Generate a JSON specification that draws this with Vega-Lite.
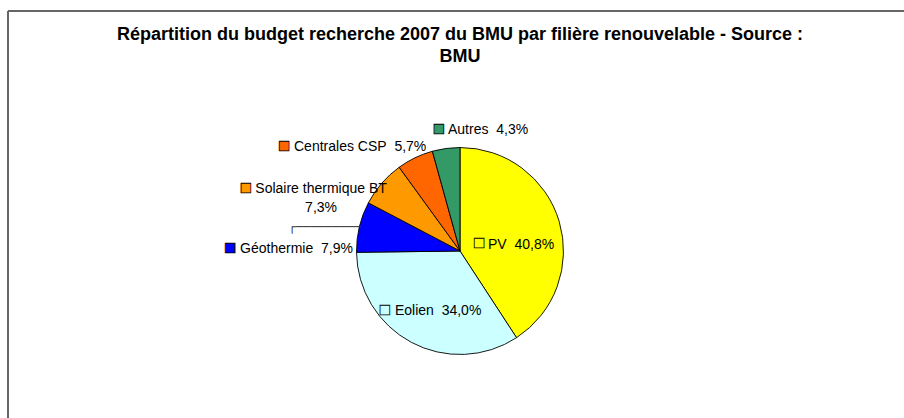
{
  "$schema": "https://vega.github.io/schema/vega-lite/v6.json",
  "autosize": "none",
  "width": 904,
  "height": 480,
  "padding": {"left": 8, "top": 11, "right": -8, "bottom": -73},
  "background": "white",
  "config": {"view": {"stroke": null}},
  "title": {
    "text": ["Répartition du budget recherche 2007 du BMU par filière renouvelable - Source :", "BMU"],
    "orient": "top",
    "anchor": "middle",
    "frame": "group",
    "baseline": "alphabetic",
    "offset": 0,
    "dy": 70,
    "lineHeight": 22,
    "font": "Liberation Sans",
    "fontSize": 18,
    "fontWeight": "bold",
    "color": "#000000"
  },
  "data": {
    "values": [
      {"cat": "PV", "value": 40.8, "idx": 1, "label": "PV\u00a0 40,8%"},
      {"cat": "Eolien", "value": 34.0, "idx": 2, "label": "Eolien\u00a0 34,0%"},
      {"cat": "Géothermie", "value": 7.9, "idx": 3, "label": "Géothermie\u00a0 7,9%"},
      {"cat": "Solaire thermique BT", "value": 7.3, "idx": 4, "label": "Solaire thermique BT\n7,3%"},
      {"cat": "Centrales CSP", "value": 5.7, "idx": 5, "label": "Centrales CSP\u00a0 5,7%"},
      {"cat": "Autres", "value": 4.3, "idx": 6, "label": "Autres\u00a0 4,3%"}
    ]
  },
  "layer": [
    {
      "mark": {"type": "rule", "color": "#666666", "strokeWidth": 2},
      "encoding": {"x": {"value": 0}, "y": {"value": 0}, "y2": {"value": "height"}}
    },
    {
      "mark": {"type": "rule", "color": "#666666", "strokeWidth": 2},
      "encoding": {"x": {"value": 0}, "x2": {"value": "width"}, "y": {"value": 0}}
    },
    {
      "mark": {"type": "arc", "outerRadius": 103.5, "stroke": "#000000", "strokeWidth": 0.9},
      "encoding": {
        "theta": {"field": "value", "type": "quantitative", "stack": true},
        "order": {"field": "idx", "type": "quantitative"},
        "color": {"field": "cat", "type": "nominal", "legend": null,
          "scale": {"domain": ["PV", "Eolien", "Géothermie", "Solaire thermique BT", "Centrales CSP", "Autres"],
                    "range": ["#FFFF00", "#CCFFFF", "#0000FF", "#FF9900", "#FF6600", "#339966"]}}
      }
    },
    {
      "mark": {"type": "text", "radius": 60, "align": "left", "baseline": "alphabetic", "dx": -29.5, "dy": 15, "font": "Liberation Sans", "fontSize": 14, "fill": "#000000"},
      "encoding": {
        "theta": {"field": "value", "type": "quantitative", "stack": true},
        "order": {"field": "idx", "type": "quantitative"},
        "text": {"condition": {"test": "datum.cat === 'PV'", "field": "label"}, "value": ""}}
    },
    {
      "mark": {"type": "text", "radius": 60, "align": "left", "baseline": "alphabetic", "dx": -36.8, "dy": 11, "font": "Liberation Sans", "fontSize": 14, "fill": "#000000"},
      "encoding": {
        "theta": {"field": "value", "type": "quantitative", "stack": true},
        "order": {"field": "idx", "type": "quantitative"},
        "text": {"condition": {"test": "datum.cat === 'Eolien'", "field": "label"}, "value": ""}}
    },
    {
      "mark": {"type": "text", "radius": 125, "align": "left", "baseline": "alphabetic", "dx": -98.4, "dy": 31.2, "font": "Liberation Sans", "fontSize": 14, "fill": "#000000"},
      "encoding": {
        "theta": {"field": "value", "type": "quantitative", "stack": true},
        "order": {"field": "idx", "type": "quantitative"},
        "text": {"condition": {"test": "datum.cat === 'Géothermie'", "field": "label"}, "value": ""}}
    },
    {
      "mark": {"type": "text", "radius": 125, "align": "center", "baseline": "alphabetic", "dx": -44.4, "dy": 23.8, "lineBreak": "\n", "lineHeight": 19, "font": "Liberation Sans", "fontSize": 14, "fill": "#000000"},
      "encoding": {
        "theta": {"field": "value", "type": "quantitative", "stack": true},
        "order": {"field": "idx", "type": "quantitative"},
        "text": {"condition": {"test": "datum.cat === 'Solaire thermique BT'", "field": "label"}, "value": ""}}
    },
    {
      "mark": {"type": "text", "radius": 125, "align": "left", "baseline": "alphabetic", "dx": -111.7, "dy": 12.6, "font": "Liberation Sans", "fontSize": 14, "fill": "#000000"},
      "encoding": {
        "theta": {"field": "value", "type": "quantitative", "stack": true},
        "order": {"field": "idx", "type": "quantitative"},
        "text": {"condition": {"test": "datum.cat === 'Centrales CSP'", "field": "label"}, "value": ""}}
    },
    {
      "mark": {"type": "text", "radius": 125, "align": "left", "baseline": "alphabetic", "dx": 4.8, "dy": 6.9, "font": "Liberation Sans", "fontSize": 14, "fill": "#000000"},
      "encoding": {
        "theta": {"field": "value", "type": "quantitative", "stack": true},
        "order": {"field": "idx", "type": "quantitative"},
        "text": {"condition": {"test": "datum.cat === 'Autres'", "field": "label"}, "value": ""}}
    },
    {
      "mark": {"type": "text", "radius": 125, "align": "left", "baseline": "alphabetic", "dx": -50, "dy": 9.4, "font": "DejaVu Sans Mono", "fontSize": 12, "fill": "#333333"},
      "encoding": {
        "theta": {"field": "value", "type": "quantitative", "stack": true},
        "order": {"field": "idx", "type": "quantitative"},
        "text": {"condition": {"test": "datum.cat === 'Géothermie'", "value": "┌─────────"}, "value": ""}
      }
    },
    {
      "mark": {"type": "text", "radius": 60, "align": "right", "baseline": "alphabetic", "dx": -32.5, "dy": 15.5, "font": "Liberation Sans", "fontSize": 20, "stroke": "#000000", "strokeWidth": 0.8},
      "encoding": {
        "theta": {"field": "value", "type": "quantitative", "stack": true},
        "order": {"field": "idx", "type": "quantitative"},
        "text": {"condition": {"test": "datum.cat === 'PV'", "value": "■"}, "value": ""},
        "color": {"field": "cat", "type": "nominal", "legend": null}
      }
    },
    {
      "mark": {"type": "text", "radius": 60, "align": "right", "baseline": "alphabetic", "dx": -40.8, "dy": 12.5, "font": "Liberation Sans", "fontSize": 20, "stroke": "#000000", "strokeWidth": 0.8},
      "encoding": {
        "theta": {"field": "value", "type": "quantitative", "stack": true},
        "order": {"field": "idx", "type": "quantitative"},
        "text": {"condition": {"test": "datum.cat === 'Eolien'", "value": "■"}, "value": ""},
        "color": {"field": "cat", "type": "nominal", "legend": null}
      }
    },
    {
      "mark": {"type": "text", "radius": 125, "align": "right", "baseline": "alphabetic", "dx": -102.4, "dy": 32.5, "font": "Liberation Sans", "fontSize": 20, "stroke": "#000000", "strokeWidth": 0.8},
      "encoding": {
        "theta": {"field": "value", "type": "quantitative", "stack": true},
        "order": {"field": "idx", "type": "quantitative"},
        "text": {"condition": {"test": "datum.cat === 'Géothermie'", "value": "■"}, "value": ""},
        "color": {"field": "cat", "type": "nominal", "legend": null}
      }
    },
    {
      "mark": {"type": "text", "radius": 125, "align": "right", "baseline": "alphabetic", "dx": -113.7, "dy": 24.3, "font": "Liberation Sans", "fontSize": 20, "stroke": "#000000", "strokeWidth": 0.8},
      "encoding": {
        "theta": {"field": "value", "type": "quantitative", "stack": true},
        "order": {"field": "idx", "type": "quantitative"},
        "text": {"condition": {"test": "datum.cat === 'Solaire thermique BT'", "value": "■"}, "value": ""},
        "color": {"field": "cat", "type": "nominal", "legend": null}
      }
    },
    {
      "mark": {"type": "text", "radius": 125, "align": "right", "baseline": "alphabetic", "dx": -115.7, "dy": 13.5, "font": "Liberation Sans", "fontSize": 20, "stroke": "#000000", "strokeWidth": 0.8},
      "encoding": {
        "theta": {"field": "value", "type": "quantitative", "stack": true},
        "order": {"field": "idx", "type": "quantitative"},
        "text": {"condition": {"test": "datum.cat === 'Centrales CSP'", "value": "■"}, "value": ""},
        "color": {"field": "cat", "type": "nominal", "legend": null}
      }
    },
    {
      "mark": {"type": "text", "radius": 125, "align": "right", "baseline": "alphabetic", "dx": 1.8, "dy": 7.4, "font": "Liberation Sans", "fontSize": 20, "stroke": "#000000", "strokeWidth": 0.8},
      "encoding": {
        "theta": {"field": "value", "type": "quantitative", "stack": true},
        "order": {"field": "idx", "type": "quantitative"},
        "text": {"condition": {"test": "datum.cat === 'Autres'", "value": "■"}, "value": ""},
        "color": {"field": "cat", "type": "nominal", "legend": null}
      }
    }
  ]
}
